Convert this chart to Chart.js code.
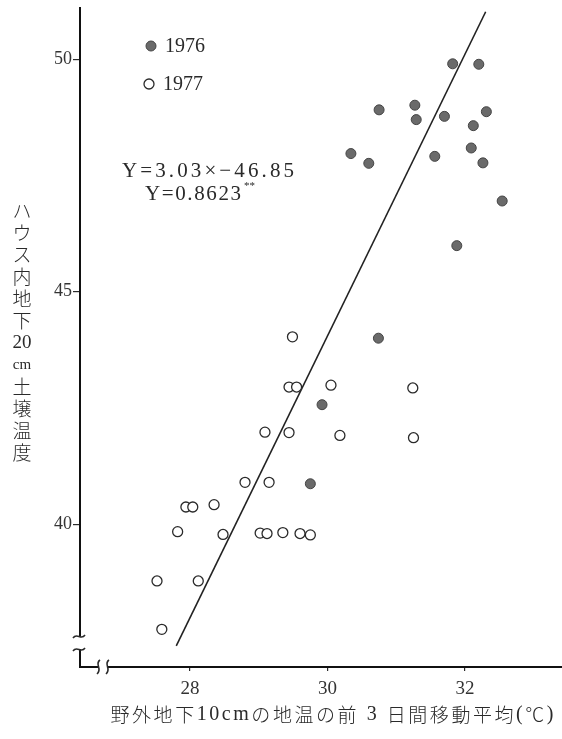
<!DOCTYPE html>
<html><head><meta charset="utf-8">
<script src="https://cdn.jsdelivr.net/npm/chart.js@4.4.1/dist/chart.umd.min.js"></script>
<style>html,body{margin:0;padding:0;background:#fff}#wrap{width:562px;height:739px;position:relative}canvas{display:block}</style>
</head><body><div id="wrap"><canvas id="c" width="562" height="739"></canvas></div>
<script>
// 1976 observations: outdoor 10cm soil temp (3-day moving mean) vs house 20cm soil temp
const obs1976X = [31.82, 32.20, 30.75, 31.27, 31.29, 31.70, 32.31, 32.12, 30.34, 30.60, 31.56, 32.09, 32.26, 32.54, 31.88, 30.74, 29.92, 29.75];
const obs1976Y = [49.90, 49.89, 48.91, 49.01, 48.70, 48.77, 48.87, 48.57, 47.97, 47.76, 47.91, 48.09, 47.77, 46.95, 45.99, 44.00, 42.57, 40.87];
// 1977 observations
const obs1977X = [29.49, 29.44, 29.55, 30.05, 31.24, 29.09, 29.44, 30.18, 31.25, 28.80, 29.15, 27.94, 28.04, 28.35, 27.82, 28.48, 29.02, 29.12, 29.35, 29.60, 29.75, 27.52, 28.12, 27.59];
const obs1977Y = [44.03, 42.95, 42.95, 42.99, 42.93, 41.98, 41.97, 41.91, 41.86, 40.90, 40.90, 40.37, 40.37, 40.42, 39.84, 39.78, 39.81, 39.80, 39.82, 39.80, 39.77, 38.78, 38.78, 37.74];
// regression Y = 3.03X - 46.85
const fitSlope = 3.03;
const fitIntercept = -46.85;
const fitXRange = [27.8, 32.3];
const xTickValues = [28, 30, 32];
const yTickValues = [40, 45, 50];
const xLimits = [26.4, 33.41];
const yLimits = [36.93, 51.1];
const legendLabels = ['1976', '1977'];
const equationText = 'Y=3.03×−46.85';
const corrText = 'Y=0.8623';
const corrMark = '**';
const yTitleParts = ['ハ','ウ','ス','内','地','下','20','cm','土','壌','温','度'];
// x title split into Japanese and Latin runs
const xTitleRuns = [['野外地下', 'jp'], ['10cm', 'lat'], ['の地温の前', 'jp'], [' 3 ', 'lat'], ['日間移動平均', 'jp'], ['(', 'lat'], ['℃', 'jp'], [')', 'lat']];

const SERIF = '"Liberation Serif"';
const JP = '"Noto Sans CJK JP"';
const INK = '#2a2a2a';

const toPoints = (xs, ys) => xs.map((x, i) => ({ x, y: ys[i] }));
const fitLine = fitXRange.map(x => ({ x, y: fitSlope * x + fitIntercept }));

function spacedText(ctx, text, cx, cy, width) {
  ctx.letterSpacing = '0px';
  const w = ctx.measureText(text).width;
  const sp = (width - w) / Math.max(1, text.length - 1);
  ctx.letterSpacing = sp + 'px';
  ctx.textAlign = 'left';
  ctx.fillText(text, cx - width / 2, cy);
  ctx.letterSpacing = '0px';
}

function runFont(kind) {
  return kind === 'jp' ? '300 19px ' + JP : '20px ' + SERIF;
}

function spacedRuns(ctx, runs, cx, cy, width) {
  ctx.letterSpacing = '0px';
  let natural = 0, count = 0;
  runs.forEach(([t, k]) => { ctx.font = runFont(k); natural += ctx.measureText(t).width; count += [...t].length; });
  const sp = (width - natural) / Math.max(1, count - 1);
  ctx.letterSpacing = sp + 'px';
  ctx.textAlign = 'left';
  let x = cx - width / 2;
  runs.forEach(([t, k]) => {
    ctx.font = runFont(k);
    ctx.fillText(t, x, cy);
    x += ctx.measureText(t).width;
  });
  ctx.letterSpacing = '0px';
}

const annotations = {
  id: 'annotations',
  afterDraw(chart) {
    const ctx = chart.ctx;
    const a = chart.chartArea;
    ctx.save();
    ctx.strokeStyle = INK;
    ctx.textBaseline = 'middle';

    // axis breaks
    const L = a.left, B = a.bottom;
    ctx.fillStyle = '#fff';
    ctx.fillRect(L - 3, B - 31, 6, 13);
    ctx.fillRect(L + 18, B - 3, 9, 6);
    ctx.lineWidth = 1.6;
    ctx.beginPath();
    [B - 31, B - 18].forEach(y => {
      ctx.moveTo(L - 7, y + 2);
      ctx.bezierCurveTo(L - 3, y - 4, L + 1, y + 5, L + 5, y - 1);
    });
    [L + 18, L + 27].forEach(x => {
      ctx.moveTo(x + 2, B - 7);
      ctx.bezierCurveTo(x - 4, B - 3, x + 5, B + 2, x - 1, B + 7);
    });
    ctx.stroke();

    // legend
    ctx.beginPath();
    ctx.arc(151, 46, 5, 0, Math.PI * 2);
    ctx.fillStyle = '#6a6a6a'; ctx.fill();
    ctx.lineWidth = 1; ctx.strokeStyle = '#444'; ctx.stroke();
    ctx.beginPath();
    ctx.arc(149, 84, 5, 0, Math.PI * 2);
    ctx.fillStyle = '#fff'; ctx.fill();
    ctx.lineWidth = 1.3; ctx.strokeStyle = INK; ctx.stroke();
    ctx.fillStyle = INK;
    ctx.font = '20px ' + SERIF;
    ctx.textAlign = 'left';
    ctx.fillText(legendLabels[0], 165, 47);
    ctx.fillText(legendLabels[1], 163, 85);

    // regression equation and correlation
    ctx.font = '21px ' + SERIF;
    spacedText(ctx, equationText, 208, 171, 172);
    spacedText(ctx, corrText, 193, 194, 96);
    ctx.font = '11px ' + SERIF;
    ctx.textAlign = 'left';
    ctx.fillText(corrMark, 244, 186);

    // y axis title, set vertically
    ctx.textAlign = 'center';
    yTitleParts.forEach((p, i) => {
      const y = 211 + i * 22;
      if (/^[0-9]+$/.test(p)) ctx.font = '19px ' + SERIF;
      else if (/^[a-z]+$/.test(p)) ctx.font = '15px ' + SERIF;
      else ctx.font = '300 19px ' + JP;
      ctx.fillText(p, 22, y);
    });

    // x axis title
    spacedRuns(ctx, xTitleRuns, 332, 715, 443);
    ctx.restore();
  }
};

new Chart(document.getElementById('c'), {
  type: 'scatter',
  data: {
    datasets: [
      { label: legendLabels[0], data: toPoints(obs1976X, obs1976Y), pointRadius: 5, pointBackgroundColor: '#6a6a6a', pointBorderColor: '#444', pointBorderWidth: 1, showLine: false },
      { label: legendLabels[1], data: toPoints(obs1977X, obs1977Y), pointRadius: 5, pointBackgroundColor: '#fff', pointBorderColor: INK, pointBorderWidth: 1.3, showLine: false },
      { label: 'fit', data: fitLine, showLine: true, pointRadius: 0, borderColor: '#222', borderWidth: 1.6, fill: false }
    ]
  },
  options: {
    responsive: false,
    devicePixelRatio: 1,
    animation: false,
    events: [],
    layout: { autoPadding: false, padding: { top: 8, right: 0, left: 0, bottom: 0 } },
    plugins: { legend: { display: false }, tooltip: { enabled: false } },
    scales: {
      x: {
        type: 'linear', min: xLimits[0], max: xLimits[1],
        afterBuildTicks: s => { s.ticks = xTickValues.map(v => ({ value: v })); },
        afterFit: s => { s.height = 72; s.paddingLeft = 0; s.paddingRight = 0; },
        ticks: { font: { family: 'Liberation Serif', size: 19 }, color: '#333', padding: 7, maxRotation: 0, autoSkip: false },
        grid: { drawOnChartArea: false, tickLength: 4, color: INK, lineWidth: 1.2 },
        border: { color: '#111', width: 2 }
      },
      y: {
        type: 'linear', min: yLimits[0], max: yLimits[1],
        afterBuildTicks: s => { s.ticks = yTickValues.map(v => ({ value: v })); },
        afterFit: s => { s.width = 80; s.paddingTop = 0; s.paddingBottom = 0; },
        ticks: { font: { family: 'Liberation Serif', size: 18 }, color: '#333', padding: 1, autoSkip: false },
        grid: { drawOnChartArea: false, tickLength: 7, color: INK, lineWidth: 1.2 },
        border: { color: '#111', width: 2 }
      }
    }
  },
  plugins: [annotations]
});
</script>
</body></html>
